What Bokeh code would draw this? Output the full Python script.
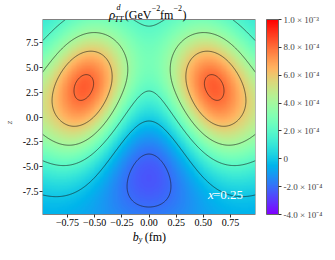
import numpy as np
from bokeh.plotting import figure
from bokeh.models import LinearColorMapper, ColorBar, FixedTicker, Label, Range1d
from bokeh.core.properties import value
from bokeh.embed import file_html
from bokeh.resources import INLINE

# ---------------- chart values ----------------
b_limits = [-0.98, 0.98]
z_limits = [-9.83, 9.83]
x_ticks = [-0.75, -0.5, -0.25, 0.0, 0.25, 0.5, 0.75]
x_tick_labels = ["\u22120.75", "\u22120.50", "\u22120.25", "0.00", "0.25", "0.50", "0.75"]
y_ticks = [-7.5, -5.0, -2.5, 0.0, 2.5, 5.0, 7.5]
y_tick_labels = ["-7.5", "-5.0", "-2.5", "0.0", "2.5", "5.0", "7.5"]
cbar_ticks = [-4e-4, -2e-4, 0.0, 2e-4, 4e-4, 6e-4, 8e-4, 1e-3]
cbar_tick_labels = ["-4.0 \u00d7 10\u207b\u2074", "-2.0 \u00d7 10\u207b\u2074", "0",
                    "2.0 \u00d7 10\u207b\u2074", "4.0 \u00d7 10\u207b\u2074",
                    "6.0 \u00d7 10\u207b\u2074", "8.0 \u00d7 10\u207b\u2074",
                    "1.0 \u00d7 10\u207b\u00b3"]
contour_levels = [-2e-4, 0.0, 2e-4, 4e-4, 6e-4, 8e-4]
color_low = -4e-4
color_high = 1e-3
x_value_text = "=0.25"

# density shape (amplitudes in units of 1e-4 GeV^-2 fm^-2)
lobe_peak = 8.0
lobe_b = 0.59
lobe_z = 2.9
lobe_tilt = 0.015
lobe_sb_in = 0.30
lobe_sb_out = 0.29
lobe_sz_up = 4.3
lobe_sz_down = 5.0
edge_amp = 2.0
edge_b = 1.15
edge_sb = 0.20
edge_z = 1.0
edge_sz = 3.5
well_amp = 2.6
well_z = -4.7
well_sb = 0.35
well_sz = 4.4
floor_amp = 0.8
floor_z = -10.0
floor_sz = 4.0
floor_notch = 0.35
floor_notch_sb = 0.3
bg0 = 0.33
bg_slope = 0.03


def density(B, Z):
    f = np.zeros_like(B)
    for s in (-1.0, 1.0):
        bc = s * (lobe_b - lobe_tilt * (Z - lobe_z))
        d = B - bc
        sb = np.where(s * d > 0, lobe_sb_out, lobe_sb_in)
        dz = Z - lobe_z
        sz = np.where(dz > 0, lobe_sz_up, lobe_sz_down)
        f += lobe_peak * np.exp(-d ** 2 / (2 * sb ** 2) - dz ** 2 / (2 * sz ** 2))
        f += edge_amp * np.exp(-(B - s * edge_b) ** 2 / (2 * edge_sb ** 2)
                               - (Z - edge_z) ** 2 / (2 * edge_sz ** 2))
    f -= well_amp * np.exp(-B ** 2 / (2 * well_sb ** 2) - (Z - well_z) ** 2 / (2 * well_sz ** 2))
    f -= (floor_amp * np.exp(-(Z - floor_z) ** 2 / (2 * floor_sz ** 2))
          * (1 - floor_notch * np.exp(-B ** 2 / (2 * floor_notch_sb ** 2))))
    f += bg0 + bg_slope * Z
    return f * 1e-4


bs = np.linspace(b_limits[0], b_limits[1], 260)
zs = np.linspace(z_limits[0], z_limits[1], 260)
BB, ZZ = np.meshgrid(bs, zs)
F = density(BB, ZZ)


def rainbow(n):
    cols = []
    for i in range(n):
        t = i / (n - 1)
        r = min(1.0, abs(2 * t - 0.5))
        g = min(1.0, max(0.0, np.sin(np.pi * t)))
        b = min(1.0, max(0.0, np.cos(np.pi * t / 2)))
        cols.append("#%02x%02x%02x" % (int(round(r * 255)), int(round(g * 255)), int(round(b * 255))))
    return cols


mapper = LinearColorMapper(palette=rainbow(256), low=color_low, high=color_high)
serif = "Liberation Serif"

# layout in pixels: image area, with room above it for the title and below for ticks + label
FW, FH, LEFT, RIGHT = 213, 244, 39, 67
IMG_H, TOP_PAD = 195, 19
BOT_PAD = FH - IMG_H - TOP_PAD
ppz = IMG_H / (z_limits[1] - z_limits[0])
y_lo = z_limits[0] - BOT_PAD / ppz
y_hi = z_limits[1] + TOP_PAD / ppz


def above(px):   # px above the top of the image area, in z units
    return z_limits[1] + px / ppz


def below(px):   # px below the bottom of the image area, in z units
    return z_limits[0] - px / ppz


p = figure(frame_width=FW, frame_height=FH, min_border_left=LEFT, min_border_top=0,
           min_border_bottom=0, min_border_right=RIGHT,
           x_range=Range1d(*b_limits), y_range=Range1d(y_lo, y_hi),
           output_backend="svg", toolbar_location=None)
p.background_fill_color = "white"
p.border_fill_color = "white"
p.outline_line_color = None
p.grid.visible = False

p.image(image=[F], x=b_limits[0], y=z_limits[0], dw=b_limits[1] - b_limits[0],
        dh=z_limits[1] - z_limits[0], color_mapper=mapper)
p.contour(x=bs, y=zs, z=F, levels=contour_levels, line_color="#1a1a1a",
          line_width=0.8, line_alpha=0.75, fill_color=None)
# frame of the image area
p.quad(left=[b_limits[0]], right=[b_limits[1]], bottom=[z_limits[0]], top=[z_limits[1]],
       fill_color=None, line_color="#808080", line_width=1)

for ax, ticks, labels in ((p.xaxis, x_ticks, x_tick_labels), (p.yaxis, y_ticks, y_tick_labels)):
    ax.ticker = FixedTicker(ticks=ticks)
    ax.major_label_overrides = dict(zip(ticks, labels))
    ax.minor_tick_line_color = None
    ax.major_tick_in = 0
    ax.major_tick_out = 3
    ax.major_tick_line_color = "#333333"
    ax.axis_line_color = None
    ax.major_label_text_font = serif
    ax.major_label_text_font_size = "10px"
    ax.major_label_text_color = "black"
    ax.major_label_standoff = 1
p.xaxis.fixed_location = z_limits[0]
p.yaxis.axis_label = "z"
p.yaxis.axis_label_text_font = serif
p.yaxis.axis_label_text_font_style = "italic"
p.yaxis.axis_label_text_font_size = "9px"
p.yaxis.axis_label_standoff = 6

cb = ColorBar(color_mapper=mapper, ticker=FixedTicker(ticks=cbar_ticks),
              major_label_overrides=dict(zip(cbar_ticks, cbar_tick_labels)),
              width=12, height=IMG_H, padding=0, margin=0, label_standoff=2,
              major_tick_in=0, major_tick_out=3, major_tick_line_color="#333333",
              minor_tick_line_color=None,
              major_label_text_font=serif, major_label_text_font_size="9px",
              bar_line_color="#666666", border_line_color=None,
              background_fill_color=None, location=(11, BOT_PAD))
p.add_layout(cb, "right")

p.add_layout(Label(x=0.543, y=-8.57, text="x", text_font=serif, text_font_size="13px",
                   text_font_style="italic", text_color="white"))
p.add_layout(Label(x=0.589, y=-8.57, text=x_value_text, text_font=serif, text_font_size="13px",
                   text_color="white"))


def txt(xs, ys, texts, size, style="normal"):
    p.text(x=xs, y=ys, text=texts, text_font=value(serif), text_font_size=value(size),
           text_font_style=style, text_color="black", text_align="left",
           text_baseline="alphabetic")


# title: rho_TT^d (GeV^-2 fm^-2)
txt([-0.369], [above(5)], ["\u03c1"], "13px", "italic")
txt([-0.300], [above(12.3)], ["d"], "8px", "italic")
txt([-0.318], [above(0.4)], ["TT"], "8px", "italic")
txt([-0.222, 0.102, 0.308], [above(5)] * 3, ["(GeV", "fm", ")"], "12px")
txt([0.025, 0.226], [above(11.8)] * 2, ["\u22122", "\u22122"], "8px")

# x-axis label: b_y (fm)
txt([-0.149], [below(22.5)], ["b"], "12px", "italic")
txt([-0.094], [below(25)], ["y"], "8px", "italic")
txt([-0.039], [below(22.5)], ["(fm)"], "12px")

open("out.html", "w").write(file_html(p, INLINE))
